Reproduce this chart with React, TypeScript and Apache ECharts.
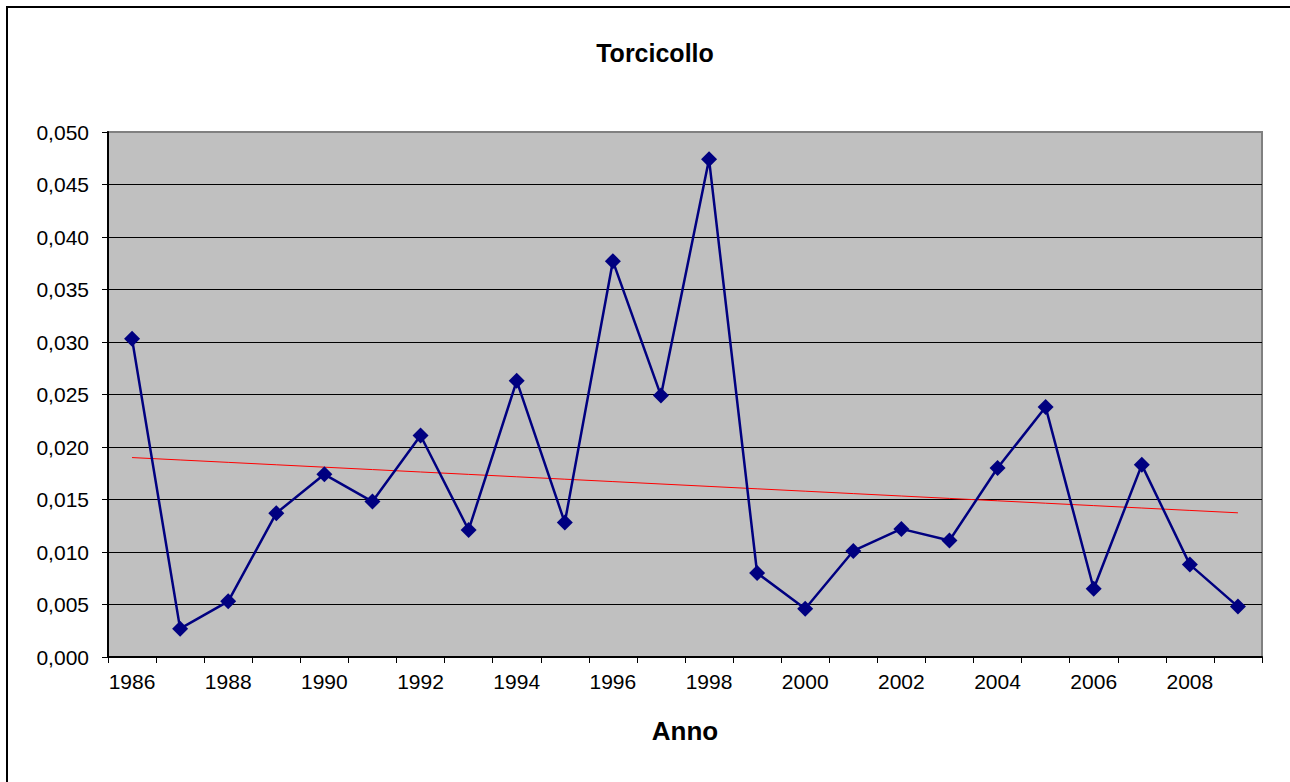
import React, { useEffect, useRef } from "react";
import * as echarts from "echarts";

const years: string[] = [
  "1986", "1987", "1988", "1989", "1990", "1991", "1992", "1993",
  "1994", "1995", "1996", "1997", "1998", "1999", "2000", "2001",
  "2002", "2003", "2004", "2005", "2006", "2007", "2008", "2009",
];

const values: number[] = [
  0.0303, 0.0027, 0.0053, 0.0137, 0.0174, 0.0148, 0.0211, 0.0121,
  0.0263, 0.0128, 0.0377, 0.0249, 0.0474, 0.0080, 0.0046, 0.0101,
  0.0122, 0.0111, 0.0180, 0.0238, 0.0065, 0.0183, 0.0088, 0.0048,
];

const yTicks = { min: 0, max: 0.05, interval: 0.005 };

function linearTrend(v: number[]): number[] {
  const n = v.length;
  const mx = (n - 1) / 2;
  const my = v.reduce((a, b) => a + b, 0) / n;
  let sxy = 0;
  let sxx = 0;
  v.forEach((y, i) => {
    sxy += (i - mx) * (y - my);
    sxx += (i - mx) * (i - mx);
  });
  const b = sxy / sxx;
  const a = my - b * mx;
  return v.map((_, i) => a + b * i);
}

export default function App() {
  const ref = useRef<HTMLDivElement>(null);

  useEffect(() => {
    if (!ref.current) return;
    const chart = echarts.init(ref.current, null, { renderer: "svg" });
    const font = "'Liberation Sans', Arial, sans-serif";
    const splitColors: string[] = [];
    for (let i = 0; i < 10; i++) splitColors.push("#000000");
    splitColors.push("#808080");

    chart.setOption({
      animation: false,
      backgroundColor: "#ffffff",
      textStyle: { fontFamily: font },
      graphic: [
        {
          type: "rect",
          shape: { x: 7, y: 7, width: 1400, height: 900 },
          style: { fill: "none", stroke: "#000000", lineWidth: 2 },
          silent: true,
        },
        {
          type: "text",
          x: 655,
          y: 53,
          style: {
            text: "Torcicollo",
            fontFamily: font,
            fontSize: 25,
            fontWeight: "bold",
            fill: "#000000",
            textAlign: "center",
            textVerticalAlign: "middle",
          },
        },
      ],
      grid: {
        left: 108,
        right: 28,
        top: 132,
        bottom: 125,
        show: true,
        backgroundColor: "#C0C0C0",
        borderColor: "#808080",
        borderWidth: 2,
      },
      xAxis: {
        type: "category",
        data: years,
        boundaryGap: true,
        name: "Anno",
        nameLocation: "middle",
        nameGap: 61,
        nameTextStyle: {
          fontFamily: font,
          fontSize: 26,
          fontWeight: "bold",
          color: "#000000",
        },
        axisLine: { show: true, lineStyle: { color: "#000000", width: 2 } },
        axisTick: {
          show: true,
          interval: 0,
          alignWithLabel: false,
          length: 6,
          lineStyle: { color: "#000000", width: 1 },
        },
        axisLabel: {
          interval: 1,
          margin: 14,
          fontFamily: font,
          fontSize: 21,
          color: "#000000",
        },
        splitLine: { show: false },
      },
      yAxis: {
        type: "value",
        min: yTicks.min,
        max: yTicks.max,
        interval: yTicks.interval,
        axisLine: { show: true, lineStyle: { color: "#000000", width: 2 } },
        axisTick: {
          show: true,
          length: 6,
          lineStyle: { color: "#000000", width: 1 },
        },
        axisLabel: {
          margin: 19,
          fontFamily: font,
          fontSize: 21,
          color: "#000000",
          formatter: (v: number) => v.toFixed(3).replace(".", ","),
        },
        splitLine: {
          show: true,
          lineStyle: { color: splitColors, width: 1 },
        },
      },
      series: [
        {
          name: "Torcicollo",
          type: "line",
          data: values,
          symbol: "diamond",
          symbolSize: 16,
          itemStyle: { color: "#000080" },
          lineStyle: { color: "#000080", width: 2.5 },
          z: 3,
        },
        {
          name: "Tendenza",
          type: "line",
          data: linearTrend(values),
          symbol: "none",
          lineStyle: { color: "#FF0000", width: 1 },
          z: 2,
        },
      ],
    });
    return () => chart.dispose();
  }, []);

  return (
    <div
      ref={ref}
      style={{ position: "fixed", left: 0, top: 0, width: 1290, height: 782 }}
    />
  );
}
